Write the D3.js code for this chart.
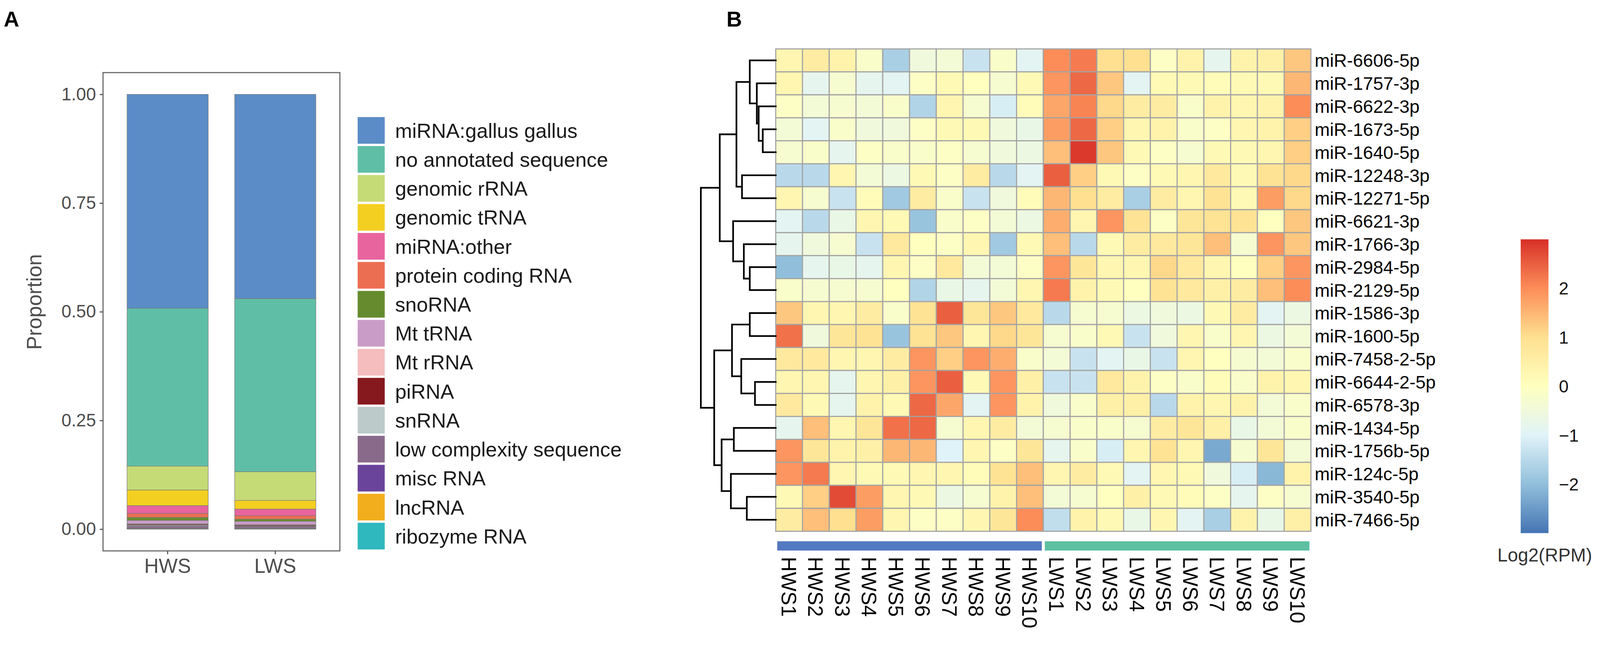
<!DOCTYPE html>
<html><head><meta charset="utf-8">
<script src="https://cdn.jsdelivr.net/npm/d3@7"></script>
<style>
html,body{margin:0;padding:0;width:100%;height:100%;overflow:hidden;background:#fff}
#c{display:block;width:100vw;height:100vh}
text{font-family:"Liberation Sans",Arial,sans-serif}
</style>
</head><body><svg id="c" viewBox="0 0 4317 1721" preserveAspectRatio="xMidYMin meet"></svg>
<script>
// ---------- Panel A data ----------
const categories = ["HWS", "LWS"];
const rnaTypes = ["miRNA:gallus gallus","no annotated sequence","genomic rRNA","genomic tRNA","miRNA:other",
  "protein coding RNA","snoRNA","Mt tRNA","Mt rRNA","piRNA","snRNA","low complexity sequence","misc RNA","lncRNA","ribozyme RNA"];
const hwsProportion = [0.492,0.363,0.055,0.036,0.018,0.009,0.007,0.008,0.001,0.002,0.002,0.005,0.001,0.0005,0.0005];
const lwsProportion = [0.470,0.398,0.066,0.020,0.015,0.008,0.005,0.008,0.001,0.002,0.001,0.004,0.001,0.0005,0.0005];
const rnaColors = ["#5B8CC7","#5FBFA6","#C5DB76","#F3CF22","#E8649E","#EC6E52","#668B2E","#C99CC8",
  "#F5BDBD","#86191E","#BDCACA","#8A6A8A","#6A449A","#F2AE1D","#2FB8BE"];
const yTicks = [0, 0.25, 0.5, 0.75, 1];

// ---------- Panel B data ----------
const sampleNames = ["HWS1","HWS2","HWS3","HWS4","HWS5","HWS6","HWS7","HWS8","HWS9","HWS10",
  "LWS1","LWS2","LWS3","LWS4","LWS5","LWS6","LWS7","LWS8","LWS9","LWS10"];
const sampleGroups = ["HWS","LWS"];
const groupColors = ["#5479C1","#5EC0A1"];
const mirnaNames = ["miR-6606-5p","miR-1757-3p","miR-6622-3p","miR-1673-5p","miR-1640-5p","miR-12248-3p",
  "miR-12271-5p","miR-6621-3p","miR-1766-3p","miR-2984-5p","miR-2129-5p","miR-1586-3p","miR-1600-5p",
  "miR-7458-2-5p","miR-6644-2-5p","miR-6578-3p","miR-1434-5p","miR-1756b-5p","miR-124c-5p","miR-3540-5p","miR-7466-5p"];
const log2rpm = [
  [0.3,0.6,0.4,-0.2,-1.7,-0.5,-0.4,-1.3,-0.2,-0.9, 2.0,2.2,1.0,1.0,-0.1,0.4,-0.8,0.4,0.5,1.3],
  [0.3,-0.8,-0.3,-0.8,-0.9,-0.1,0.2,0.0,-0.3,0.2, 1.9,2.4,1.3,-0.9,0.2,0.2,0.1,0.2,0.2,1.5],
  [-0.1,-0.4,-0.3,-0.4,-0.2,-1.6,0.3,-0.3,-1.1,0.1, 1.7,2.1,1.1,0.6,0.6,-0.2,0.4,0.3,0.4,2.0],
  [-0.4,-0.9,-0.2,-0.5,-0.5,-0.1,0.2,0.2,-0.5,-0.7, 1.8,2.4,1.2,0.3,0.4,-0.2,-0.1,0.3,0.4,1.2],
  [-0.3,-0.2,-0.8,-0.1,-0.2,-0.2,-0.1,-0.3,-0.5,-0.6, 1.4,2.9,1.3,0.2,-0.1,-0.3,0.2,0.2,0.3,1.2],
  [-1.5,-1.5,0.3,-0.4,-0.6,0.2,-0.1,0.6,-1.5,-0.9, 2.5,1.2,0.2,-0.1,0.2,0.3,0.7,0.2,0.9,1.1],
  [0.3,-0.3,-1.3,0.1,-1.8,0.6,-0.2,-1.3,-0.5,0.1, 1.5,1.0,0.6,-1.7,0.6,0.3,0.9,0.2,1.8,1.1],
  [-0.9,-1.5,-0.7,0.3,0.2,-1.9,-0.2,-0.1,-0.4,-0.6, 1.6,0.3,1.9,0.9,-0.1,0.8,0.9,0.9,0.0,1.3],
  [-0.8,-0.5,-0.3,-1.3,0.7,0.0,-0.1,0.3,-1.8,0.2, 1.4,-1.5,0.2,0.6,0.7,0.8,1.4,-0.3,1.9,1.3],
  [-2.0,-0.8,-0.7,-0.8,0.3,-0.1,0.7,-0.4,-0.4,-0.1, 1.9,0.8,0.3,0.3,1.1,0.7,0.3,0.0,1.2,1.9],
  [-0.2,-0.3,-0.3,-0.3,0.0,-1.6,-0.7,-0.8,-0.4,0.3, 2.2,0.4,0.2,0.0,0.9,0.7,0.5,0.6,1.4,2.0],
  [1.3,0.3,0.3,0.6,-0.2,0.9,2.5,0.8,1.3,0.7, -1.5,-0.3,-0.3,-0.6,-0.5,-0.6,0.2,0.6,-0.9,-0.6],
  [2.3,-0.5,0.8,0.9,-1.9,0.9,1.3,0.3,1.1,0.8, -0.3,-0.2,0.2,-1.3,-0.5,0.3,-0.2,0.3,-0.6,-0.4],
  [0.7,0.7,0.3,0.3,0.6,1.9,1.2,1.9,1.6,-0.2, -0.4,-1.3,-0.9,-0.7,-1.3,0.3,0.0,-0.3,-0.4,-0.2],
  [0.3,0.3,-0.8,0.3,0.5,1.9,2.5,0.2,1.9,0.5, -1.3,-1.3,0.7,0.4,-0.1,-0.2,0.1,-0.2,0.4,0.3],
  [0.7,0.2,-0.8,0.4,0.2,2.4,1.7,-0.9,1.9,0.4, -0.5,-0.2,0.5,0.5,-1.5,0.4,0.3,0.4,-0.4,-0.2],
  [-0.8,1.4,0.3,0.8,2.3,2.4,-0.3,0.3,0.6,-0.4, -0.3,-0.2,-0.2,-0.3,0.6,0.8,0.5,-0.7,-0.4,-0.2],
  [1.9,0.8,0.4,0.5,1.5,1.5,-1.0,0.3,-0.1,0.8, -0.8,-0.2,-1.1,0.3,0.9,0.3,-2.3,-0.3,0.8,-0.4],
  [1.9,2.2,0.3,0.2,0.2,0.3,0.3,0.1,0.9,1.4, 0.3,0.6,0.2,-0.9,0.3,0.2,-0.5,-1.1,-2.1,0.4],
  [0.2,1.2,2.7,1.8,0.3,0.2,-0.6,-0.3,0.4,1.4, -0.4,-0.3,0.0,0.5,0.2,0.1,-0.1,-0.8,-0.1,-0.3],
  [0.6,1.4,1.0,1.8,0.3,-0.1,-0.1,0.3,0.8,2.0, -1.4,0.4,0.2,-0.7,0.3,-0.9,-1.7,0.4,-0.7,0.5]
];
const legendTicks = [-2, -1, 0, 1, 2];
const colorStops = [-3, -2, -1, 0, 1, 2, 3];
const heatPalette = ["#4575B4","#91BFDB","#E0F3F8","#FFFFBF","#FEE090","#FC8D59","#D73027"];
// row dendrogram: merge heights, leaves are row indices
const rowTree = {h:20.2, c:[
  {h:15.1, c:[
    {h:10.6, c:[
      {h:7.0, c:[0, {h:5.1, c:[1, {h:4.6, c:[2, {h:3.5, c:[3,4]}]}]}]},
      {h:9.1, c:[5,6]}
    ]},
    {h:11.5, c:[7, {h:8.6, c:[8, {h:7.0, c:[9,10]}]}]}
  ]},
  {h:16.6, c:[
    {h:11.8, c:[{h:7.0, c:[11,12]}, {h:9.3, c:[13, {h:5.6, c:[14,15]}]}]},
    {h:14.6, c:[{h:11.3, c:[16,17]}, {h:12.1, c:[18, {h:7.8, c:[19,20]}]}]}
  ]}
]};

const svg = d3.select("#c");
svg.append("rect").attr("width",4317).attr("height",1721).attr("fill","#fff");

// panel letters
svg.append("text").attr("x",10).attr("y",72).attr("font-size",58).attr("font-weight","bold").text("A");
svg.append("text").attr("x",1960).attr("y",72).attr("font-size",58).attr("font-weight","bold").text("B");

// ================= Panel A =================
const frame = {l:278, r:917, t:196, b:1487};
const xA = d3.scaleBand().domain(categories).range([frame.l, frame.r]).paddingInner(0.246).paddingOuter(0.223);
const yA = d3.scaleLinear().domain([-0.05, 1.05]).range([frame.b, frame.t]);
const tableA = categories.map((c, ci) => {
  const row = {cat: c};
  const src = ci === 0 ? hwsProportion : lwsProportion;
  rnaTypes.forEach((t, i) => row[t] = src[i]);
  return row;
});
const stackA = d3.stack().keys(rnaTypes).order(d3.stackOrderReverse)(tableA);
const colorA = d3.scaleOrdinal().domain(rnaTypes).range(rnaColors);

const gA = svg.append("g");
gA.selectAll("g.s").data(stackA).join("g").attr("class","s")
  .attr("fill", d => colorA(d.key))
  .selectAll("rect").data(d => d).join("rect")
  .attr("x", d => xA(d.data.cat)).attr("width", xA.bandwidth())
  .attr("y", d => yA(d[1])).attr("height", d => Math.max(0, yA(d[0]) - yA(d[1])))
  .attr("stroke", "#7a7a7a").attr("stroke-width", 1.3);

gA.append("rect").attr("x",frame.l).attr("y",frame.t).attr("width",frame.r-frame.l).attr("height",frame.b-frame.t)
  .attr("fill","none").attr("stroke","#666").attr("stroke-width",3);

// y axis
const yAxis = d3.axisLeft(yA).tickValues(yTicks).tickFormat(d3.format(".2f")).tickSize(9).tickPadding(10);
const gy = gA.append("g").attr("transform",`translate(${frame.l},0)`).call(yAxis);
gy.select(".domain").remove();
gy.selectAll("line").attr("stroke","#555").attr("stroke-width",3);
gy.selectAll("text").attr("font-size",48).attr("fill","#4d4d4d").attr("font-family","Liberation Sans, Arial, sans-serif");

// x axis
const xAxis = d3.axisBottom(xA).tickSize(9).tickPadding(12);
const gx = gA.append("g").attr("transform",`translate(0,${frame.b})`).call(xAxis);
gx.select(".domain").remove();
gx.selectAll("line").attr("stroke","#555").attr("stroke-width",3);
gx.selectAll("text").attr("font-size",54).attr("fill","#4d4d4d").attr("font-family","Liberation Sans, Arial, sans-serif");

gA.append("text").attr("transform","translate(112,815) rotate(-90)").attr("text-anchor","middle")
  .attr("font-size",56).attr("fill","#4d4d4d").text("Proportion");

// legend
const legY = d3.scaleBand().domain(rnaTypes).range([316, 1483]).paddingInner(0.08);
const leg = gA.append("g");
leg.selectAll("rect").data(rnaTypes).join("rect")
  .attr("x",965).attr("width",73).attr("y", d => legY(d)).attr("height", legY.bandwidth())
  .attr("fill", d => colorA(d));
leg.selectAll("text").data(rnaTypes).join("text")
  .attr("x",1066).attr("y", d => legY(d) + legY.bandwidth()/2).attr("dy","0.36em")
  .attr("font-size",55).attr("fill","#1a1a1a").text(d => d);

// ================= Panel B =================
const xB = d3.scaleBand().domain(sampleNames).range([2093, 3537]);
const yB = d3.scaleBand().domain(mirnaNames).range([132, 1434]);
const heatColor = d3.scaleLinear().domain(colorStops).range(heatPalette).clamp(true);

const cells = [];
mirnaNames.forEach((m, i) => sampleNames.forEach((s, j) => cells.push({m, s, v: log2rpm[i][j]})));
const gB = svg.append("g");
gB.selectAll("rect.cell").data(cells).join("rect").attr("class","cell")
  .attr("x", d => xB(d.s)).attr("y", d => yB(d.m))
  .attr("width", xB.bandwidth()).attr("height", yB.bandwidth())
  .attr("fill", d => heatColor(d.v)).attr("stroke","#a3a3a3").attr("stroke-width",3);

// row labels
gB.selectAll("text.rl").data(mirnaNames).join("text").attr("class","rl")
  .attr("x", 3547).attr("y", d => yB(d) + yB.bandwidth()/2).attr("dy","0.36em")
  .attr("font-size",49).attr("fill","#000").text(d => d);

// column annotation bar
const groupOf = s => s.replace(/\d+$/, "");
const groupCol = d3.scaleOrdinal().domain(sampleGroups).range(groupColors);
gB.selectAll("rect.ann").data(sampleGroups).join("rect").attr("class","ann")
  .attr("x", g => xB(sampleNames.filter(s => groupOf(s) === g)[0]) + 4)
  .attr("width", g => {
    const ss = sampleNames.filter(s => groupOf(s) === g);
    return xB(ss[ss.length-1]) + xB.bandwidth() - xB(ss[0]) - 8;
  })
  .attr("y", 1461).attr("height", 25).attr("fill", g => groupCol(g));

// column labels
gB.selectAll("text.cl").data(sampleNames).join("text").attr("class","cl")
  .attr("transform", d => `translate(${xB(d) + xB.bandwidth()/2},1503) rotate(90)`)
  .attr("dy","0.36em").attr("font-size",56).attr("fill","#000").text(d => d);

// dendrogram
const root = d3.hierarchy(rowTree, d => (typeof d === "number") ? null : d.c);
const hx = d3.scaleLinear().domain([0, rowTree.h]).range([2093, 1891]);
root.eachAfter(n => {
  if (!n.children) { n.py = yB(mirnaNames[n.data]) + yB.bandwidth()/2; n.px = hx(0); }
  else { n.py = (n.children[0].py + n.children[n.children.length-1].py) / 2; n.px = hx(n.data.h); }
});
let dpath = "";
root.each(n => {
  if (!n.children) return;
  dpath += `M${n.px},${n.children[0].py}V${n.children[n.children.length-1].py}`;
  n.children.forEach(c => { dpath += `M${n.px},${c.py}H${c.px}`; });
});
gB.append("path").attr("d", dpath).attr("fill","none").attr("stroke","#000").attr("stroke-width",4.5).attr("stroke-linecap","square");

// color legend
const yL = d3.scaleLinear().domain([-3, 3]).range([1439, 646]);
const grad = svg.append("defs").append("linearGradient").attr("id","hg")
  .attr("x1",0).attr("y1",1).attr("x2",0).attr("y2",0);
grad.selectAll("stop").data(colorStops).join("stop")
  .attr("offset", d => (d + 3) / 6).attr("stop-color", d => heatColor(d));
svg.append("rect").attr("x",4103).attr("width",75).attr("y",yL(3)).attr("height",yL(-3)-yL(3)).attr("fill","url(#hg)");
svg.selectAll("text.lt").data(legendTicks).join("text").attr("class","lt")
  .attr("x",4206).attr("y", d => yL(d)).attr("dy","0.36em").attr("font-size",47).attr("fill","#111")
  .text(d => d3.format("d")(d));
svg.append("text").attr("x",4168).attr("y",1516).attr("text-anchor","middle").attr("font-size",50).attr("fill","#333").text("Log2(RPM)");
</script></body></html>
